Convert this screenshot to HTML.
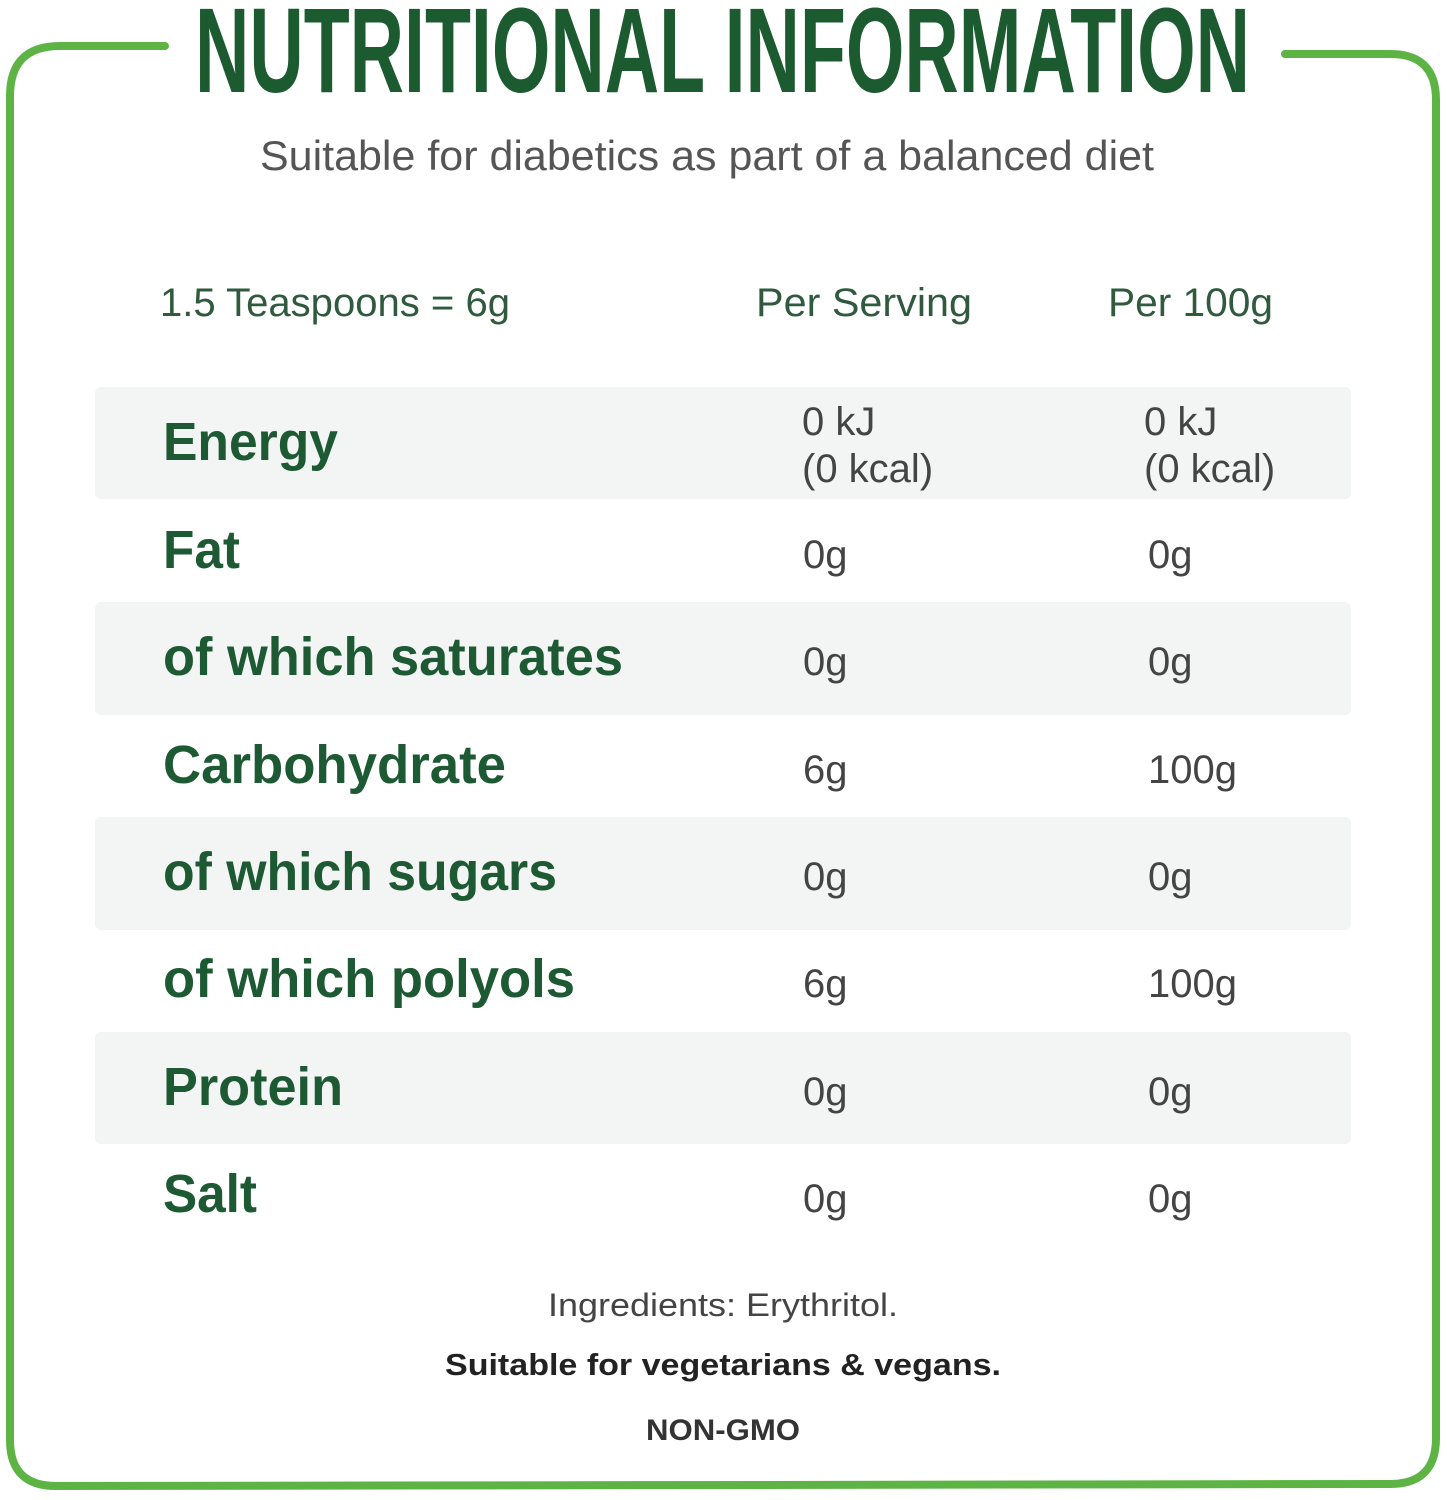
<!DOCTYPE html>
<html><head><meta charset="utf-8"><style>
html,body{margin:0;padding:0;background:#fff;}
svg{display:block;}
</style></head><body>
<svg width="1447" height="1500" viewBox="0 0 1447 1500" xmlns="http://www.w3.org/2000/svg">
<path d="M165 46 L60 46 Q10 46 10 96 L10 1440 Q10 1486 56 1486 L1390 1484 Q1436 1484 1436 1438 L1436 100 Q1436 54 1390 54 L1285 54" fill="none" stroke="#5db445" stroke-width="8" stroke-linecap="round"/>
<text x="195" y="92" font-family="Liberation Sans Narrow, Liberation Sans, sans-serif" font-weight="bold" font-size="121" fill="#1c5a30" textLength="1055" lengthAdjust="spacingAndGlyphs">NUTRITIONAL INFORMATION</text>
<text x="260" y="170" font-family="Liberation Sans, sans-serif" font-size="42" fill="#555" textLength="894" lengthAdjust="spacingAndGlyphs" font-weight="300">Suitable for diabetics as part of a balanced diet</text>
<g font-family="Liberation Sans, sans-serif" font-size="40" fill="#2f5a3e">
<text x="160" y="316" textLength="350" lengthAdjust="spacingAndGlyphs">1.5 Teaspoons = 6g</text>
<text x="756" y="316" textLength="216" lengthAdjust="spacingAndGlyphs">Per Serving</text>
<text x="1108" y="316" textLength="165" lengthAdjust="spacingAndGlyphs">Per 100g</text>
</g>
<g fill="#f3f4f4">
<rect x="95" y="387" width="1256" height="112" rx="6"/>
<rect x="95" y="602" width="1256" height="113" rx="6"/>
<rect x="95" y="817" width="1256" height="113" rx="6"/>
<rect x="95" y="1032" width="1256" height="112" rx="6"/>
</g>
<g font-family="Liberation Sans, sans-serif" font-weight="bold" font-size="54" fill="#1d5a33">
<text x="163" y="460" textLength="175" lengthAdjust="spacingAndGlyphs">Energy</text>
<text x="163" y="568" textLength="77" lengthAdjust="spacingAndGlyphs">Fat</text>
<text x="163" y="675" textLength="460" lengthAdjust="spacingAndGlyphs">of which saturates</text>
<text x="163" y="783" textLength="343" lengthAdjust="spacingAndGlyphs">Carbohydrate</text>
<text x="163" y="890" textLength="394" lengthAdjust="spacingAndGlyphs">of which sugars</text>
<text x="163" y="997" textLength="412" lengthAdjust="spacingAndGlyphs">of which polyols</text>
<text x="163" y="1105" textLength="180" lengthAdjust="spacingAndGlyphs">Protein</text>
<text x="163" y="1212" textLength="94" lengthAdjust="spacingAndGlyphs">Salt</text>
</g>
<g font-family="Liberation Sans, sans-serif" font-size="40" fill="#444">
<text x="802" y="435">0 kJ</text><text x="802" y="482">(0 kcal)</text>
<text x="1144" y="435">0 kJ</text><text x="1144" y="482">(0 kcal)</text>
<text x="803" y="568">0g</text><text x="1148" y="568">0g</text>
<text x="803" y="675">0g</text><text x="1148" y="675">0g</text>
<text x="803" y="783">6g</text><text x="1148" y="783">100g</text>
<text x="803" y="890">0g</text><text x="1148" y="890">0g</text>
<text x="803" y="997">6g</text><text x="1148" y="997">100g</text>
<text x="803" y="1105">0g</text><text x="1148" y="1105">0g</text>
<text x="803" y="1212">0g</text><text x="1148" y="1212">0g</text>
</g>
<g font-family="Liberation Sans, sans-serif">
<text x="548" y="1316" font-size="32" fill="#444" textLength="350" lengthAdjust="spacingAndGlyphs">Ingredients: Erythritol.</text>
<text x="445" y="1375" font-size="31" font-weight="bold" fill="#222" textLength="556" lengthAdjust="spacingAndGlyphs">Suitable for vegetarians &amp; vegans.</text>
<text x="646" y="1440" font-size="30" font-weight="bold" fill="#333" textLength="154" lengthAdjust="spacingAndGlyphs">NON-GMO</text>
</g>
</svg>
</body></html>
